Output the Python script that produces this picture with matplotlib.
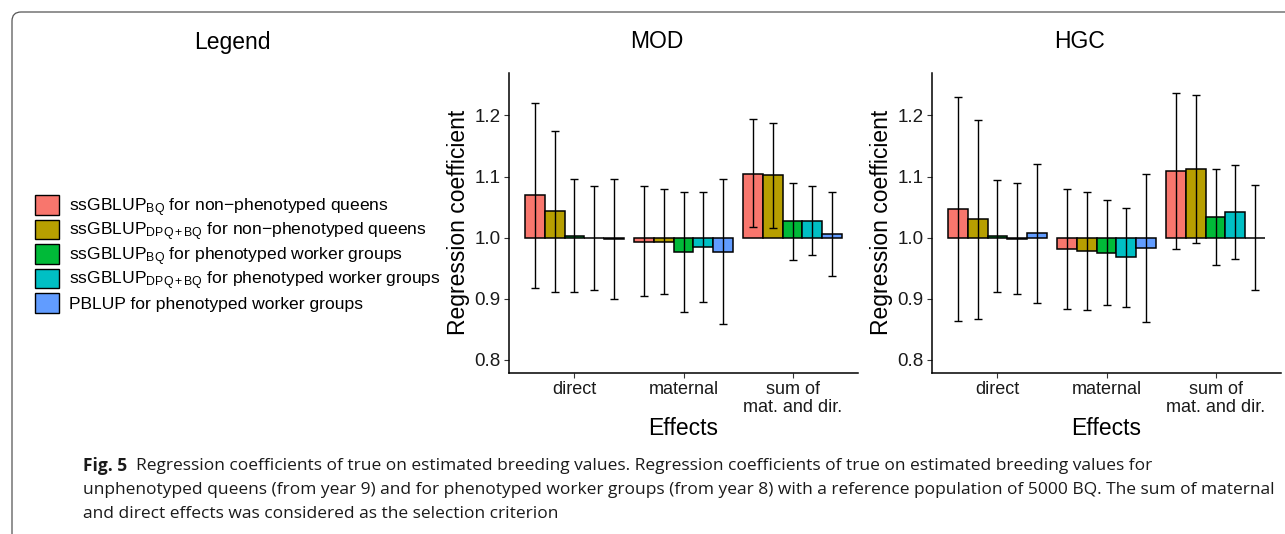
import matplotlib
matplotlib.use("Agg")
import matplotlib.pyplot as plt
from matplotlib.patches import Patch, FancyBboxPatch

plt.rcParams['font.family'] = ['Liberation Sans', 'DejaVu Sans']
plt.rcParams['mathtext.fontset'] = 'custom'
plt.rcParams['mathtext.rm'] = 'Liberation Sans'
plt.rcParams['mathtext.it'] = 'Liberation Sans'

categories = ['direct', 'maternal', 'sum of\nmat. and dir.']
series_labels = [
    'ssGBLUP$_{\\mathrm{BQ}}$ for non\u2212phenotyped queens',
    'ssGBLUP$_{\\mathrm{DPQ+BQ}}$ for non\u2212phenotyped queens',
    'ssGBLUP$_{\\mathrm{BQ}}$ for phenotyped worker groups',
    'ssGBLUP$_{\\mathrm{DPQ+BQ}}$ for phenotyped worker groups',
    'PBLUP for phenotyped worker groups',
]
colors = ['#F8766D', '#B79F00', '#00BA38', '#00BFC4', '#619CFF']

# rows = series, columns = categories
mod_coef = [
    [1.070, 0.993, 1.105],
    [1.043, 0.993, 1.102],
    [1.003, 0.976, 1.027],
    [1.000, 0.985, 1.028],
    [0.998, 0.977, 1.006],
]
mod_upper = [
    [1.221, 1.084, 1.195],
    [1.175, 1.079, 1.188],
    [1.096, 1.074, 1.090],
    [1.085, 1.075, 1.084],
    [1.096, 1.096, 1.074],
]
mod_lower = [
    [0.918, 0.904, 1.017],
    [0.911, 0.907, 1.016],
    [0.911, 0.878, 0.963],
    [0.914, 0.895, 0.972],
    [0.900, 0.858, 0.937],
]

hgc_coef = [
    [1.047, 0.982, 1.109],
    [1.030, 0.978, 1.112],
    [1.003, 0.975, 1.034],
    [0.998, 0.968, 1.042],
    [1.007, 0.983, 1.000],
]
hgc_upper = [
    [1.231, 1.080, 1.237],
    [1.192, 1.074, 1.233],
    [1.095, 1.061, 1.113],
    [1.089, 1.049, 1.119],
    [1.120, 1.104, 1.086],
]
hgc_lower = [
    [0.863, 0.884, 0.981],
    [0.867, 0.882, 0.991],
    [0.911, 0.889, 0.955],
    [0.907, 0.887, 0.965],
    [0.893, 0.862, 0.914],
]

caption_bold = 'Fig. 5'
caption_lines = [
    'Regression coefficients of true on estimated breeding values. Regression coefficients of true on estimated breeding values for',
    'unphenotyped queens (from year 9) and for phenotyped worker groups (from year 8) with a reference population of 5000 BQ. The sum of maternal',
    'and direct effects was considered as the selection criterion',
]

W, H = 1285, 534
fig = plt.figure(figsize=(W / 100, H / 100), dpi=100)


def draw_panel(left_px, coef, upper, lower):
    ax = fig.add_axes([left_px / W, 1 - 372.7 / H, 349 / W, 300 / H])
    n = len(coef)
    bw = 0.9 / n
    for i in range(n):
        xs = [c + 1 + (i - (n - 1) / 2) * bw for c in range(len(categories))]
        heights = [v - 1 for v in coef[i]]
        ax.bar(xs, heights, width=bw, bottom=1, color=colors[i],
               edgecolor='black', linewidth=1.1, zorder=2)
        ax.errorbar(xs, coef[i],
                    yerr=[[c - l for c, l in zip(coef[i], lower[i])],
                          [u - c for c, u in zip(coef[i], upper[i])]],
                    fmt='none', ecolor='black', elinewidth=1.0,
                    capsize=2.8, capthick=1.0, zorder=3)
    ax.set_xlim(0.4, 3.6)
    ax.set_ylim(0.779, 1.270)
    ax.set_xticks([1, 2, 3])
    ax.set_xticklabels(categories, fontsize=13, linespacing=1.05)
    ax.set_yticks([0.8, 0.9, 1.0, 1.1, 1.2])
    ax.set_yticklabels(['0.8', '0.9', '1.0', '1.1', '1.2'], fontsize=13.5)
    ax.tick_params(axis='both', length=3.5, width=0.8, color='#333333', pad=2.5,
                   labelcolor='#1a1a1a')
    for s in ['top', 'right']:
        ax.spines[s].set_visible(False)
    for s in ['left', 'bottom']:
        ax.spines[s].set_linewidth(1.1)
    ax.set_ylabel('Regression coefficient', fontsize=16.5, labelpad=3)
    ax.set_xlabel('Effects', fontsize=16.5, labelpad=1)
    return ax


draw_panel(509, mod_coef, mod_upper, mod_lower)
draw_panel(932, hgc_coef, hgc_upper, hgc_lower)

fig.text(232 / W, 1 - 42 / H, 'Legend', fontsize=16.5, ha='center', va='center')
fig.text(657 / W, 1 - 42 / H, 'MOD', fontsize=16.5, ha='center', va='center')
fig.text(1080 / W, 1 - 42 / H, 'HGC', fontsize=16.5, ha='center', va='center')

handles = [Patch(facecolor=c, edgecolor='black', linewidth=1.0) for c in colors]
fig.legend(handles, series_labels, loc='center left',
           bbox_to_anchor=(35 / W, 1 - 254 / H), frameon=False,
           fontsize=12.6, handlelength=1.35, handleheight=1.35,
           labelspacing=0.06, handletextpad=0.6, borderpad=0, borderaxespad=0)

# caption
cap_font = ['Open Sans', 'Liberation Sans', 'DejaVu Sans']
cap_x = 83
cap_y = [466, 490, 514]
cap_size = 12.5
t = fig.text(cap_x / W, 1 - cap_y[0] / H, caption_bold, fontsize=cap_size, fontweight='bold',
             family=cap_font, va='center', color='#1a1a1a')
fig.canvas.draw()
bb = t.get_window_extent()
fig.text((bb.x1 + 9) / W, 1 - cap_y[0] / H, caption_lines[0], fontsize=cap_size,
         family=cap_font, va='center', color='#1a1a1a')
for k in (1, 2):
    fig.text(cap_x / W, 1 - cap_y[k] / H, caption_lines[k], fontsize=cap_size,
             family=cap_font, va='center', color='#1a1a1a')

# frame around figure: top and left edges with rounded corner
frame = FancyBboxPatch((12, -60), 1400, H - 12 + 60,
                       boxstyle='round,pad=0,rounding_size=9',
                       transform=None, facecolor='none', edgecolor='#555555',
                       linewidth=0.9)
fig.add_artist(frame)

fig.savefig('out.png', dpi=100)
